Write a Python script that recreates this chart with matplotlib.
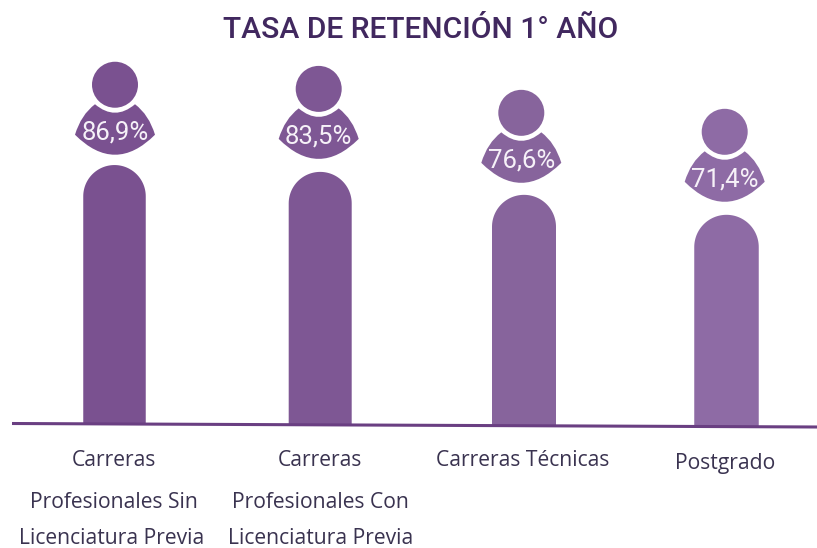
import matplotlib

matplotlib.use("Agg")
import matplotlib.pyplot as plt
import numpy as np
from matplotlib.patches import Ellipse, PathPatch
from matplotlib.path import Path

# Data
categories = [
    ["Carreras", "Profesionales Sin", "Licenciatura Previa"],
    ["Carreras", "Profesionales Con", "Licenciatura Previa"],
    ["Carreras Técnicas"],
    ["Postgrado"],
]
value_labels = ["86,9%", "83,5%", "76,6%", "71,4%"]
# bar heights as drawn, not quite in step with the printed values
values = [86.9, 84.6, 76.9, 70.2]

# Layout, in pixels of the 817x548 picture
W, H = 817, 548
BASE_PX = 424  # pixel row of value 0
U = 2.98  # pixels per percentage point
bar_x = [114.5, 320.2, 524, 726.5]
bar_w = [62.5, 63, 64, 64.5]
person_x = [115, 318.7, 521.3, 724.7]
head_gap = [80.3, 83, 82, 83]
colors = ["#7a5190", "#7e5794", "#87649c", "#8e6ba5"]
label_rows = [[460, 502, 538.5], [460, 502, 538.5], [460], [464]]
label_x = [[114, 114, 112], [320, 320, 320.5], [523], [725]]
line_x = [12, W]
line_px = [423.5, 427]

FONT = "Open Sans"
TEXT_COLOR = "#3a3350"


def y_px(p):
    # pixel row -> value axis
    return (BASE_PX - p) / U


fig = plt.figure(figsize=(W / 100, H / 100), dpi=100)
ax = fig.add_axes([0, 0, 1, 1])
ax.set_xlim(0, W)
ax.set_ylim(y_px(H), y_px(0))
ax.axis("off")

for i, v in enumerate(values):
    # bar with a round top, one polygon so there is no seam
    r = bar_w[i] / 2
    cy = v - r / U
    bottom = y_px(np.interp(bar_x[i], line_x, line_px))
    th = np.radians(np.linspace(0, 180, 60))
    xs = np.r_[bar_x[i] + r, bar_x[i] + r * np.cos(th), bar_x[i] - r]
    ys = np.r_[bottom, cy + r * np.sin(th) / U, bottom]
    ax.fill(xs, ys, fc=colors[i], ec="none")

    # person head
    hx = person_x[i]
    hy = v + head_gap[i] / U
    ax.add_patch(Ellipse((hx, hy), 46, 46 / U, fc=colors[i], ec="none"))

    # person shoulders
    pts = [
        (-20, 19.5),
        (0, 36.5),
        (20, 19.5),
        (34, 30),
        (40, 50),
        (0, 90),
        (-40, 50),
        (-34, 30),
        (-20, 19.5),
    ]
    verts = [(hx + dx, hy - dy / U) for dx, dy in pts]
    codes = [Path.MOVETO] + [Path.CURVE3] * 8
    ax.add_patch(PathPatch(Path(verts, codes), fc=colors[i], ec="none"))

    ax.text(
        hx,
        hy - 48 / U,
        value_labels[i],
        color="#f6f1f8",
        fontsize=18.5,
        family="Roboto",
        ha="center",
        va="center",
    )

    for line, row, lx in zip(categories[i], label_rows[i], label_x[i]):
        ax.text(lx, y_px(row), line, color=TEXT_COLOR, fontsize=15.2, family=FONT, ha="center", va="center")

# base line, it falls slightly to the right
ax.plot(line_x, [y_px(p) for p in line_px], color="#6a3f82", lw=2.2, solid_capstyle="butt")

ax.text(
    420.5,
    y_px(30.5),
    "TASA DE RETENCIÓN 1° AÑO",
    color="#41285f",
    fontsize=21.6,
    family="Roboto",
    weight="medium",
    ha="center",
    va="center",
)

fig.savefig("out.png", dpi=100)
